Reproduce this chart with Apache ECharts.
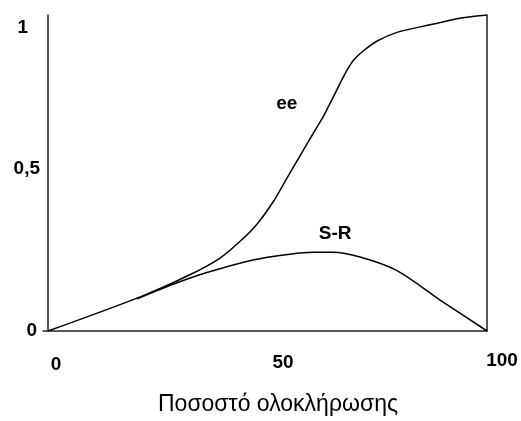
<!DOCTYPE html>
<html><head><meta charset="utf-8">
<script src="https://cdn.jsdelivr.net/npm/echarts@6/dist/echarts.min.js"></script>
<style>html,body{margin:0;padding:0;background:#fff}#c{width:521px;height:421px}</style>
</head><body><div id="c"></div>
<script>
// ee curve (x = % completion, y = value)
const eeX = [0, 21, 32.3, 39.2, 43.7, 47.6, 51.3, 54.4, 57.4, 60.4, 62.4, 63.8, 65.8, 67.7, 69.5, 71.8, 74.9, 79.5, 87.0, 94.5, 100];
const eeY = [0, 0.108, 0.178, 0.231, 0.283, 0.338, 0.409, 0.483, 0.554, 0.625, 0.671, 0.708, 0.763, 0.815, 0.855, 0.886, 0.917, 0.945, 0.969, 0.991, 1.0];
// S-R curve
const srX = [20.3, 28.5, 36.2, 46.7, 55.1, 60.4, 64.9, 71.1, 79.5, 89.3, 100];
const srY = [0.102, 0.148, 0.185, 0.225, 0.243, 0.249, 0.249, 0.234, 0.191, 0.098, 0];
// curve name annotations
const annoNames = ['ee', 'S-R'];
const annoX = [54.4, 65.4];
const annoY = [0.72, 0.308];
// tick labels
const xTickValues = [0, 50, 100];
const xTickLabels = ['0', '50', '100'];
const yTickValues = [0, 0.5, 1];
const yTickLabels = ['0', '0,5', '1'];
const xTitle = 'Ποσοστό ολοκλήρωσης';

const zip = (a, b) => a.map((v, i) => [v, b[i]]);
const FONT = 'Liberation Sans';
const AX = { color: '#222', width: 1.5 };
const FS = 19;
const tick = (pad) => ({ fontFamily: FONT, fontWeight: 'bold', fontSize: FS, color: '#000', padding: pad });

const chart = echarts.init(document.getElementById('c'), null, { renderer: 'canvas' });
chart.setOption({
  animation: false,
  backgroundColor: '#fff',
  textStyle: { fontFamily: FONT },
  grid: { left: 43, right: 34, top: 15, bottom: 81, containLabel: false },
  xAxis: {
    type: 'value', min: -1.14, max: 100,
    axisLine: { show: true, lineStyle: AX },
    axisTick: { show: false },
    splitLine: { show: false },
    axisLabel: {
      customValues: xTickValues,
      margin: 20,
      fontFamily: FONT, fontWeight: 'bold', fontSize: FS, color: '#000',
      formatter: v => {
        const i = xTickValues.indexOf(v);
        return '{x' + i + '|' + xTickLabels[i] + '}';
      },
      rich: { x0: tick([4, 0, 0, 16]), x1: tick([2, 0, 0, 31]), x2: tick([0, 0, 0, 30]) }
    },
    name: xTitle,
    nameLocation: 'middle',
    nameGap: 62,
    nameTextStyle: { fontFamily: FONT, fontSize: 23, color: '#000', padding: [0, 0, 0, 26] }
  },
  yAxis: [{
    type: 'value', min: 0, max: 1,
    axisLine: { show: true, onZero: true, lineStyle: AX },
    axisTick: { show: false },
    splitLine: { show: false },
    axisLabel: {
      customValues: yTickValues,
      margin: 2,
      fontFamily: FONT, fontWeight: 'bold', fontSize: FS, color: '#000',
      formatter: v => {
        const i = yTickValues.indexOf(v);
        return '{y' + i + '|' + yTickLabels[i] + '}';
      },
      rich: { y0: tick([0, 4, 0, 0]), y1: tick([0, 1, 9, 0]), y2: tick([26, 13, 0, 0]) }
    }
  }, {
    type: 'value', min: 0, max: 1, position: 'right',
    axisLine: { show: true, lineStyle: AX },
    axisTick: { show: false }, axisLabel: { show: false }, splitLine: { show: false }
  }],
  series: [{
    type: 'line', data: zip(eeX, eeY), smooth: 0.3, showSymbol: false,
    lineStyle: { color: '#000', width: 1.5 }
  }, {
    type: 'line', data: zip(srX, srY), smooth: 0.3, showSymbol: false,
    lineStyle: { color: '#000', width: 1.5 }
  }, {
    type: 'scatter', symbolSize: 1, silent: true,
    itemStyle: { opacity: 0 },
    emphasis: { disabled: true },
    data: annoNames.map((n, i) => ({ value: [annoX[i], annoY[i]], name: n })),
    label: {
      show: true, position: 'inside', formatter: p => p.name, opacity: 1,
      fontFamily: FONT, fontWeight: 'bold', fontSize: 19, color: '#000'
    }
  }]
});
</script></body></html>
